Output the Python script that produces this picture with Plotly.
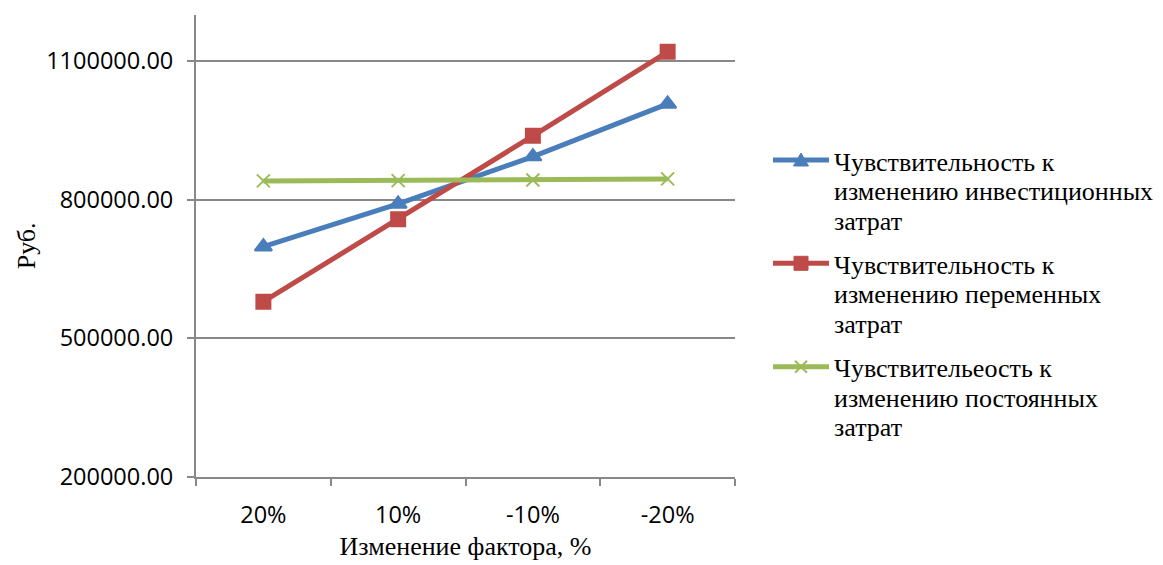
import plotly.graph_objects as go

# Factor change categories along the x axis
factor_change = ["20%", "10%", "-10%", "-20%"]

# Sensitivity series, rubles
invest_costs = [698300, 790800, 893300, 1007500]
variable_costs = [579000, 757700, 938200, 1120200]
fixed_costs = [840700, 841300, 842800, 845000]

series_labels = [
    ["Чувствительность к", "изменению инвестиционных", "затрат"],
    ["Чувствительность к", "изменению переменных", "затрат"],
    ["Чувствительеость к", "изменению постоянных", "затрат"],
]

y_ticks = [200000, 500000, 800000, 1100000]

W, H = 1163, 565
serif = "Liberation Serif"
axis_gray = "#888888"

# plot area in pixels
plot_left, plot_right, plot_top, plot_bottom = 196, 735, 15, 476.7

styles = [
    dict(color="#4A7EBB", symbol="triangle-up", size=15),
    dict(color="#BE4B48", symbol="square", size=14),
    dict(color="#9BBB59", symbol="x-thin", size=13),
]
series_values = [invest_costs, variable_costs, fixed_costs]

fig = go.Figure()
for vals, st, lines in zip(series_values, styles, series_labels):
    fig.add_trace(go.Scatter(
        x=factor_change, y=vals, name=" ".join(lines), mode="lines+markers",
        line=dict(color=st["color"], width=5),
        marker=dict(symbol=st["symbol"], size=st["size"], color=st["color"],
                    line=dict(color=st["color"], width=2)),
        showlegend=False,
    ))


def px(x):
    return x / W


def py(y):
    return 1 - y / H


# Legend: sample line, marker glyph and three text lines per series
leg_x0, leg_x1, leg_text_x = 773, 829, 832
leg_row_y = [160, 263.3, 366.7]
line_gap = 29.5
for st, lines, ry in zip(styles, series_labels, leg_row_y):
    c = st["color"]
    cx = (leg_x0 + leg_x1) / 2
    fig.add_shape(type="line", xref="paper", yref="paper",
                  x0=px(leg_x0), x1=px(leg_x1), y0=py(ry), y1=py(ry),
                  line=dict(color=c, width=5))
    if st["symbol"] == "triangle-up":
        path = "M %f %f L %f %f L %f %f Z" % (
            px(cx - 7.5), py(ry + 6), px(cx + 7.5), py(ry + 6),
            px(cx), py(ry - 7))
        fig.add_shape(type="path", xref="paper", yref="paper", path=path,
                      fillcolor=c, line=dict(color=c, width=1))
    elif st["symbol"] == "square":
        fig.add_shape(type="rect", xref="paper", yref="paper",
                      x0=px(cx - 7), x1=px(cx + 7), y0=py(ry - 7), y1=py(ry + 7),
                      fillcolor=c, line=dict(color=c, width=1))
    else:
        for sgn in (1, -1):
            fig.add_shape(type="line", xref="paper", yref="paper",
                          x0=px(cx - 6), x1=px(cx + 6),
                          y0=py(ry - 6 * sgn), y1=py(ry + 6 * sgn),
                          line=dict(color=c, width=2))
    for i, txt in enumerate(lines):
        fig.add_annotation(
            x=px(leg_text_x), y=py(ry + 2 + i * line_gap),
            xref="paper", yref="paper",
            text=txt, showarrow=False, xanchor="left", yanchor="middle",
            font=dict(family=serif, size=26, color="black"),
        )

fig.update_layout(
    width=W, height=H,
    margin=dict(l=0, r=0, t=0, b=0),
    plot_bgcolor="white", paper_bgcolor="white",
    font=dict(family="Open Sans", size=23.5, color="black"),
    showlegend=False,
    xaxis=dict(
        domain=[plot_left / W, plot_right / W],
        title=dict(text="Изменение фактора, %",
                   font=dict(family=serif, size=26), standoff=8),
        range=[-0.5, 3.5], automargin=False,
        showline=True, linecolor=axis_gray, linewidth=2,
        ticks="outside", ticklen=7, tickcolor=axis_gray, tickwidth=2,
        tickson="boundaries", showgrid=False,
        ticklabelstandoff=16,
    ),
    yaxis=dict(
        domain=[1 - plot_bottom / H, 1 - plot_top / H],
        title=dict(text="Руб.", font=dict(family=serif, size=26),
                   standoff=3),
        range=[200000, 1200000], tickvals=y_ticks, automargin=False,
        tickformat=".2f",
        showline=True, linecolor=axis_gray, linewidth=2,
        ticks="outside", ticklen=7, tickcolor=axis_gray, tickwidth=2,
        showgrid=True, gridcolor=axis_gray, gridwidth=2,
        zeroline=False, ticklabelstandoff=9,
    ),
)

fig.write_html("out.html")
